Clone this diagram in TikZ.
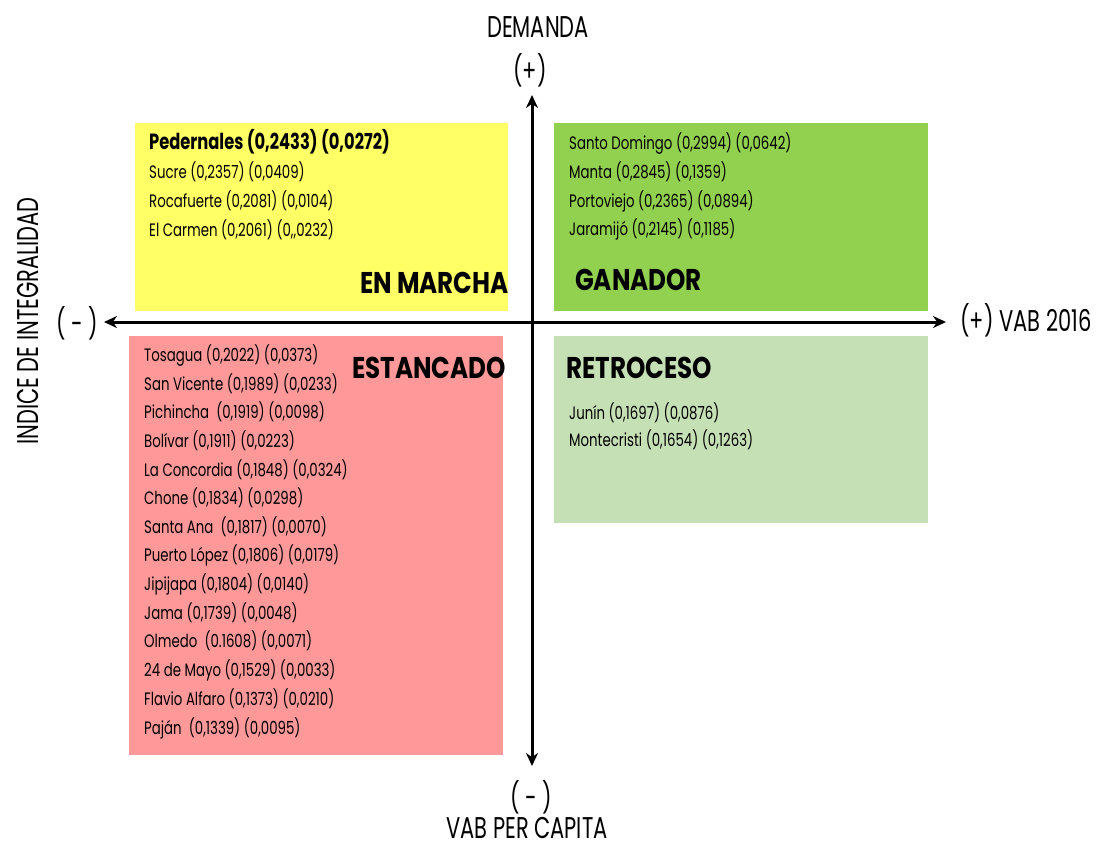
\documentclass[tikz,border=0pt]{standalone}
\usepackage{fontspec}
\setmainfont{Poppins}
\newfontfamily\itemfont{Poppins}[FakeStretch=0.74]
\newfontfamily\titlefont{Poppins}[FakeStretch=0.82]
\newfontfamily\axfont{Poppins}[FakeStretch=0.70]
\usetikzlibrary{arrows.meta}
\definecolor{cyel}{HTML}{FFFF66}
\definecolor{cgan}{HTML}{92D050}
\definecolor{cpink}{HTML}{FF9999}
\definecolor{cret}{HTML}{C5E0B4}
\tikzset{
  item/.style={anchor=west, inner sep=0pt, font=\itemfont\fontsize{18}{18}\selectfont, text height=13pt, text depth=4pt},
  itembold/.style={item, font=\itemfont\fontsize{22}{22}\selectfont\bfseries},
  title/.style={inner sep=0pt, font=\titlefont\fontsize{30}{30}\selectfont\bfseries},
  axlab/.style={inner sep=0pt, font=\axfont\fontsize{30}{30}\selectfont},
  axis/.style={line width=3pt, -{Stealth[length=13pt,width=12pt]}}
}
\begin{document}
\begin{tikzpicture}[x=1pt,y=-1pt]
\useasboundingbox (0,0) rectangle (1099,847);
% quadrants
\fill[cyel] (135,123) rectangle (508,311);
\fill[cgan] (554,123) rectangle (928,311);
\fill[cpink] (129,336) rectangle (503,755);
\fill[cret] (554,336) rectangle (928,523);
% axes
\coordinate (c) at (532,322);
\coordinate (xl) at (104,322);
\coordinate (xr) at (946,322);
\coordinate (yt) at (532,95);
\coordinate (yb) at (532,766);
\draw[axis] (c) -- (xl);
\draw[axis] (c) -- (xr);
\draw[axis] (c) -- (yt);
\draw[axis] (c) -- (yb);
% axis labels
\node[axlab] (dem) at (538,27) {DEMANDA};
\node[axlab] (demp) at (530,70) {(+)};
\node[axlab] (vpcm) at (531,797) {( - )};
\node[axlab] (vpc) at (527,828) {VAB PER CAPITA};
\node[axlab] (lm) at (77,323) {( - )};
\node[axlab] (vab) at (1026,320) {(+) VAB 2016};
\node[axlab, rotate=90] (idx) at (28,321) {INDICE DE INTEGRALIDAD};
% EN MARCHA
\node[itembold] (y1) at (149,145) {Pedernales (0,2433) (0,0272)};
\node[item] (y2) at (149,174) {Sucre (0,2357) (0,0409)};
\node[item] (y3) at (149,203) {Rocafuerte (0,2081) (0,0104)};
\node[item] (y4) at (149,232) {El Carmen (0,2061) (0,,0232)};
\node[title, anchor=east] (tm) at (509,283) {EN MARCHA};
% GANADOR
\node[item] (g1) at (569,145) {Santo Domingo (0,2994) (0,0642)};
\node[item] (g2) at (569,174) {Manta (0,2845) (0,1359)};
\node[item] (g3) at (569,203) {Portoviejo (0,2365) (0,0894)};
\node[item] (g4) at (569,231) {Jaramijó (0,2145) (0,1185)};
\node[title, anchor=west] (tg) at (575,280) {GANADOR};
% ESTANCADO
\node[title, anchor=east] (te) at (506,368) {ESTANCADO};
\node[item] (p1) at (144,357) {Tosagua (0,2022) (0,0373)};
\node[item] (p2) at (144,386) {San Vicente (0,1989) (0,0233)};
\node[item] (p3) at (144,414) {Pichincha\ \ (0,1919) (0,0098)};
\node[item] (p4) at (144,443) {Bolívar (0,1911) (0,0223)};
\node[item] (p5) at (144,472) {La Concordia (0,1848) (0,0324)};
\node[item] (p6) at (144,500) {Chone (0,1834) (0,0298)};
\node[item] (p7) at (144,529) {Santa Ana\ \ (0,1817) (0,0070)};
\node[item] (p8) at (144,557) {Puerto López (0,1806) (0,0179)};
\node[item] (p9) at (144,586) {Jipijapa (0,1804) (0,0140)};
\node[item] (p10) at (144,615) {Jama (0,1739) (0,0048)};
\node[item] (p11) at (144,643) {Olmedo\ \ (0.1608) (0,0071)};
\node[item] (p12) at (144,672) {24 de Mayo (0,1529) (0,0033)};
\node[item] (p13) at (144,701) {Flavio\ Alfaro (0,1373) (0,0210)};
\node[item] (p14) at (144,730) {Paján\ \ (0,1339) (0,0095)};
% RETROCESO
\node[title, anchor=west] (tr) at (566,368) {RETROCESO};
\node[item] (r1) at (569,415) {Junín (0,1697) (0,0876)};
\node[item] (r2) at (569,442) {Montecristi (0,1654) (0,1263)};
\end{tikzpicture}
\end{document}
